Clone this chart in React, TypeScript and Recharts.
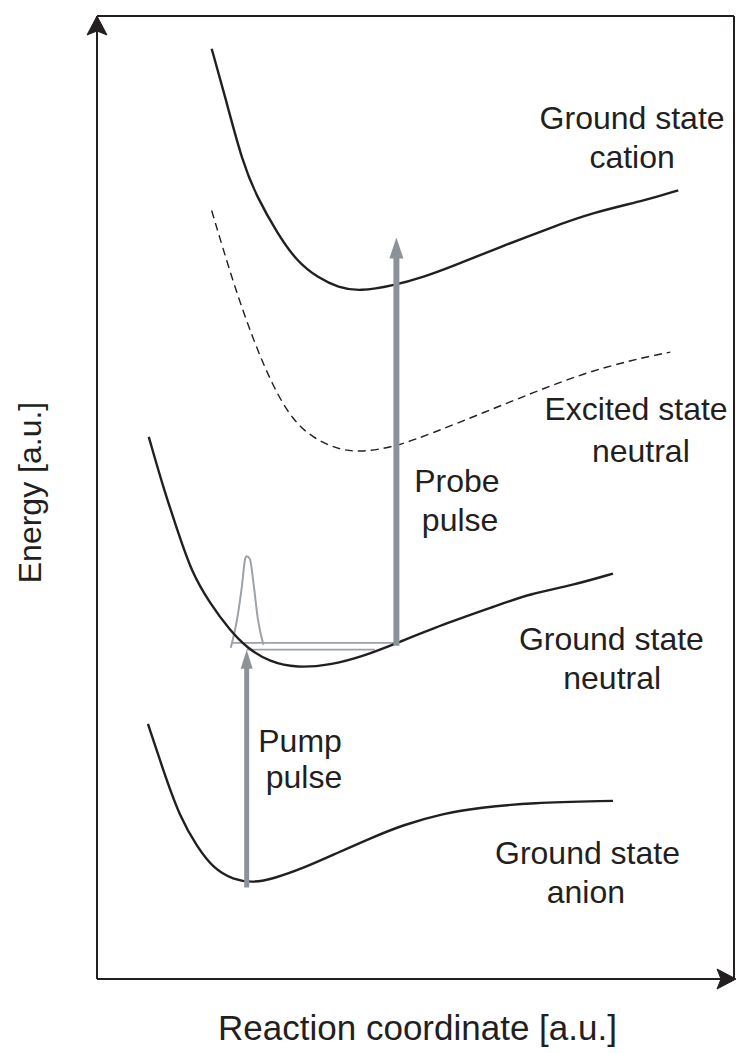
import React from 'react';
import { ComposedChart, Line, XAxis, YAxis, ReferenceDot, Label } from 'recharts';

// Potential energy curves (reaction coordinate / energy, both a.u.)
const cationX = [1.44, 1.61, 1.83, 2.01, 2.26, 2.51, 2.78, 3.03, 3.3, 3.72, 4.1, 4.43, 5.06, 5.69, 6.23, 6.91, 7.3];
const cationY = [9.66, 9.16, 8.47, 8.12, 7.75, 7.45, 7.28, 7.18, 7.14, 7.2, 7.29, 7.39, 7.6, 7.8, 7.96, 8.09, 8.19];

const excitedX = [1.44, 1.71, 1.96, 2.21, 2.46, 2.71, 3.02, 3.3, 3.72, 4.22, 4.85, 5.48, 6.11, 6.73, 7.2];
const excitedY = [7.98, 7.23, 6.64, 6.15, 5.8, 5.62, 5.5, 5.47, 5.52, 5.67, 5.88, 6.09, 6.29, 6.43, 6.51];

const neutralX = [0.65, 0.83, 1.01, 1.19, 1.42, 1.67, 1.88, 2.17, 2.51, 2.93, 3.34, 3.77, 4.4, 5.03, 5.44, 5.98, 6.48];
const neutralY = [5.63, 5.11, 4.66, 4.22, 3.9, 3.62, 3.44, 3.29, 3.23, 3.26, 3.35, 3.49, 3.7, 3.88, 4.0, 4.09, 4.21];

const anionX = [0.64, 0.83, 1.04, 1.26, 1.46, 1.71, 1.96, 2.21, 2.59, 3.02, 3.43, 3.84, 4.35, 4.81, 5.44, 6.48];
const anionY = [2.65, 2.17, 1.68, 1.37, 1.15, 1.03, 1.0, 1.04, 1.15, 1.31, 1.46, 1.6, 1.72, 1.78, 1.83, 1.85];

// wave packet on the neutral surface
const packetX = [1.68, 1.76, 1.82, 1.86, 1.88, 1.92, 1.97, 2.02, 2.09];
const packetY = [3.44, 3.74, 4.08, 4.36, 4.39, 4.36, 4.08, 3.74, 3.47];

// energy levels (thin grey horizontals)
const levelUpperX = [1.7, 3.77];
const levelUpperY = [3.49, 3.49];
const levelLowerX = [1.88, 3.49];
const levelLowerY = [3.42, 3.42];

// pulses: [start, tip]
const pumpX = [1.88, 1.88];
const pumpY = [0.95, 3.42];
const probeX = [3.76, 3.76];
const probeY = [3.46, 7.7];

const xTicks = [0, 1, 2, 3, 4, 5, 6, 7, 8];
const yTicks = [0, 1, 2, 3, 4, 5, 6, 7, 8, 9, 10];

const annotations = [
  { text: 'Ground state', x: 6.72, y: 8.83 },
  { text: 'cation', x: 6.72, y: 8.42 },
  { text: 'Excited state', x: 6.77, y: 5.8 },
  { text: 'neutral', x: 6.83, y: 5.37 },
  { text: 'Probe', x: 4.52, y: 5.06 },
  { text: 'pulse', x: 4.56, y: 4.65 },
  { text: 'Ground state', x: 6.46, y: 3.42 },
  { text: 'neutral', x: 6.47, y: 3.01 },
  { text: 'Pump', x: 2.55, y: 2.36 },
  { text: 'pulse', x: 2.6, y: 1.98 },
  { text: 'Ground state', x: 6.16, y: 1.19 },
  { text: 'anion', x: 6.14, y: 0.79 },
];

const zip = (xs: number[], ys: number[]) => xs.map((x, i) => ({ x, y: ys[i] }));

const W = 736;
const H = 1053;
const MARGIN = { top: 6, right: 0, bottom: 64, left: 87 };
const AXIS_THICK = 10;
const PLOT_H = H - MARGIN.top - MARGIN.bottom - 2 * AXIS_THICK;
const Y_PER_PX = 10 / PLOT_H;

const INK = '#231f20';
const GREY = '#8b9399';
const LIGHT = '#9ca2a7';
const FONT = '"Liberation Sans", Arial, Helvetica, sans-serif';

const upPath = (cx: number, cy: number, w: number, h: number, notch = 0) =>
  `M${cx},${cy} L${cx - w / 2},${cy + h} L${cx},${cy + h - notch} L${cx + w / 2},${cy + h} Z`;
const rightPath = (cx: number, cy: number, w: number, h: number, notch = 0) =>
  `M${cx},${cy} L${cx - h},${cy - w / 2} L${cx - h + notch},${cy} L${cx - h},${cy + w / 2} Z`;

// arrow head pointing up, tip at (cx, cy)
const upHead = (w: number, h: number, fill: string) => (p: any) => {
  const { cx, cy } = p;
  if (cx == null || cy == null) return <g />;
  return <path d={upPath(cx, cy, w, h)} fill={fill} />;
};

// arrow heads at the ends of the axis lines
const yAxisArrow = (p: any) => {
  const vb = p.viewBox;
  if (!vb) return null;
  return <path d={upPath(vb.x + vb.width, vb.y, 20, 19, 4)} fill={INK} stroke={INK} strokeWidth={1} />;
};
const xAxisArrow = (p: any) => {
  const vb = p.viewBox;
  if (!vb) return null;
  return <path d={rightPath(vb.x + vb.width + 2, vb.y, 20, 19, 4)} fill={INK} stroke={INK} strokeWidth={1} />;
};

const textAt = (text: string, dx = 0, dy = 0, size = 32, rotate = false) => (p: any) => {
  const { cx, cy } = p;
  if (cx == null || cy == null) return <g />;
  const x = cx + dx;
  const y = cy + dy;
  return (
    <text
      x={x}
      y={y}
      textAnchor="middle"
      fill={INK}
      fontSize={size}
      fontFamily={FONT}
      transform={rotate ? `rotate(-90 ${x} ${y})` : undefined}
    >
      {text}
    </text>
  );
};

export default function App() {
  const probeHeadH = 21;
  const pumpHeadH = 19;
  const probeShaft = zip(probeX, [probeY[0], probeY[1] - (probeHeadH - 2) * Y_PER_PX]);
  const pumpShaft = zip(pumpX, [pumpY[0], pumpY[1] - (pumpHeadH - 2) * Y_PER_PX]);

  const curve = { dot: false, isAnimationActive: false, activeDot: false } as const;
  const axisLine = { stroke: INK, strokeWidth: 2 };

  return (
    <div style={{ position: 'absolute', left: 0, top: 0, width: W, height: H, background: '#fff' }}>
      <ComposedChart width={W} height={H} margin={MARGIN}>
        <XAxis
          dataKey="x"
          type="number"
          domain={[0, 8]}
          ticks={xTicks}
          height={AXIS_THICK}
          tick={false}
          tickSize={3}
          axisLine={axisLine}
          tickLine={axisLine}
        >
          <Label content={xAxisArrow} />
        </XAxis>
        <XAxis
          xAxisId="top"
          orientation="top"
          dataKey="x"
          type="number"
          domain={[0, 8]}
          ticks={xTicks}
          height={AXIS_THICK}
          tick={false}
          tickSize={3}
          axisLine={axisLine}
          tickLine={axisLine}
        />
        <YAxis
          type="number"
          domain={[0, 10]}
          ticks={yTicks}
          width={AXIS_THICK}
          tick={false}
          tickSize={3}
          axisLine={axisLine}
          tickLine={axisLine}
        >
          <Label content={yAxisArrow} />
        </YAxis>
        <YAxis
          yAxisId="right"
          orientation="right"
          type="number"
          domain={[0, 10]}
          width={2}
          tick={false}
          tickLine={false}
          axisLine={axisLine}
        />

        <Line data={zip(levelUpperX, levelUpperY)} dataKey="y" type="linear" stroke={LIGHT} strokeWidth={1.6} {...curve} />
        <Line data={zip(levelLowerX, levelLowerY)} dataKey="y" type="linear" stroke={LIGHT} strokeWidth={1.6} {...curve} />
        <Line data={zip(packetX, packetY)} dataKey="y" type="monotone" stroke={LIGHT} strokeWidth={2} {...curve} />

        <Line data={zip(cationX, cationY)} dataKey="y" type="basis" stroke={INK} strokeWidth={2.4} {...curve} />
        <Line
          data={zip(excitedX, excitedY)}
          dataKey="y"
          type="basis"
          stroke={INK}
          strokeWidth={1.4}
          strokeDasharray="8 5"
          {...curve}
        />
        <Line data={zip(neutralX, neutralY)} dataKey="y" type="basis" stroke={INK} strokeWidth={2.4} {...curve} />
        <Line data={zip(anionX, anionY)} dataKey="y" type="basis" stroke={INK} strokeWidth={2.4} {...curve} />

        <Line data={pumpShaft} dataKey="y" type="linear" stroke={GREY} strokeWidth={5} {...curve} />
        <Line data={probeShaft} dataKey="y" type="linear" stroke={GREY} strokeWidth={6} {...curve} />
        <ReferenceDot x={pumpX[1]} y={pumpY[1]} r={0} shape={upHead(12, pumpHeadH, GREY)} />
        <ReferenceDot x={probeX[1]} y={probeY[1]} r={0} shape={upHead(14, probeHeadH, GREY)} />

        {annotations.map((a, i) => (
          <ReferenceDot key={i} x={a.x} y={a.y} r={0} ifOverflow="visible" shape={textAt(a.text)} />
        ))}

        <ReferenceDot x={4} y={0} r={0} ifOverflow="visible" shape={textAt('Reaction coordinate [a.u.]', 2, 61, 35)} />
        <ReferenceDot x={0} y={5} r={0} ifOverflow="visible" shape={textAt('Energy [a.u.]', -56, -5, 32, true)} />
      </ComposedChart>
    </div>
  );
}
